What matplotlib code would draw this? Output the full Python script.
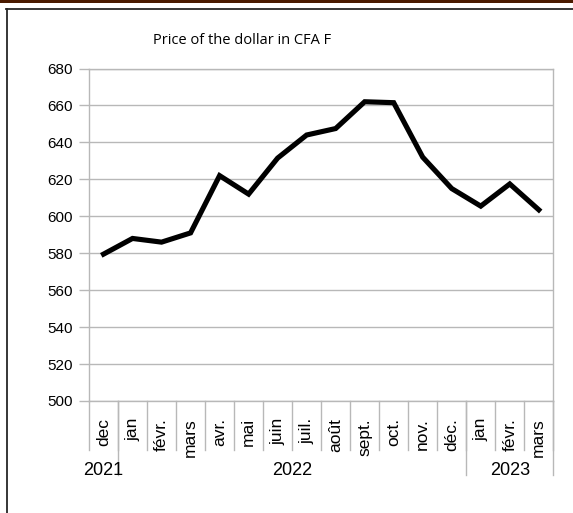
import matplotlib.pyplot as plt
from matplotlib.patches import Rectangle
from matplotlib.lines import Line2D
import numpy as np

months = ['dec', 'jan', 'févr.', 'mars', 'avr.', 'mai', 'juin', 'juil.',
          'août', 'sept.', 'oct.', 'nov.', 'déc.', 'jan', 'févr.', 'mars']
price = [579.5, 588, 586, 591, 622, 612, 631.5, 644,
         647.5, 662, 661.5, 632, 615, 605.5, 617.5, 603.5]
years = ['2021', '2022', '2023']
year_counts = [1, 12, 3]

plt.rcParams['font.family'] = ['Liberation Sans', 'DejaVu Sans']

W, H = 573, 513
fig = plt.figure(figsize=(W / 100, H / 100), dpi=100)

# page decoration: brown bar and outer frame
fig.patches.append(Rectangle((0, 1 - 2.8 / H), 1, 2.8 / H, transform=fig.transFigure,
                             facecolor='#4a1a00', edgecolor='none'))
fig.lines.append(Line2D([6 / W, 1], [1 - 9 / H, 1 - 9 / H], transform=fig.transFigure,
                        color='#262626', lw=1.3))
fig.lines.append(Line2D([7 / W, 7 / W], [0, 1 - 9 / H], transform=fig.transFigure,
                        color='#262626', lw=1.3))

ax = fig.add_axes([89 / W, 1 - 401 / H, (553.3 - 89) / W, (401 - 68.5) / H])

grid_c = '#b8b8b8'
x = np.arange(len(months))
ax.plot(x, price, color='black', lw=3.7, solid_joinstyle='miter', zorder=3)

ax.set_xlim(-0.5, len(months) - 0.5)
ax.set_ylim(500, 680)
ax.set_yticks(np.arange(500, 681, 20))
ax.yaxis.grid(True, color=grid_c, lw=1.0)
ax.set_axisbelow(True)
for s in ax.spines.values():
    s.set_color(grid_c)
    s.set_linewidth(1.0)
ax.tick_params(axis='y', length=7.2, width=1.0, color=grid_c, pad=4.5,
               labelsize=11, labelcolor='black')
ax.set_xticks([])

trans = ax.get_xaxis_transform()
axh = 401 - 68.5
# month separators and labels
for i in range(len(months) + 1):
    ax.plot([i - 0.5, i - 0.5], [0, -49 / axh], transform=trans, color=grid_c,
            lw=1.0, clip_on=False)
for i, m in enumerate(months):
    ax.text(i, -17 / axh, m, transform=trans, rotation=90, ha='center', va='top',
            fontsize=12.5)

# year separators and labels
edges = np.concatenate([[0], np.cumsum(year_counts)])
for e in edges[1:]:
    ax.plot([e - 0.5, e - 0.5], [0, -74 / axh], transform=trans, color=grid_c,
            lw=1.0, clip_on=False)
for yname, a, b in zip(years, edges[:-1], edges[1:]):
    ax.text((a + b - 1) / 2, -74 / axh, yname, transform=trans, ha='center',
            va='baseline', fontsize=13)

fig.text(242 / W, 1 - 40 / H, 'Price of the dollar in CFA F', ha='center',
         va='center', fontsize=10.5, family=['Open Sans', 'DejaVu Sans'])

fig.savefig('out.png', dpi=100)
